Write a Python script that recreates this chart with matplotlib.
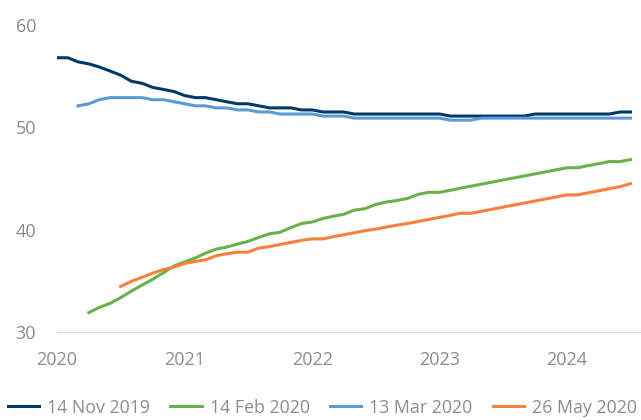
import pandas as pd
import matplotlib
matplotlib.use("Agg")
import matplotlib.pyplot as plt
import matplotlib.dates as mdates

plt.rcParams['font.family'] = ['Open Sans', 'DejaVu Sans']

# monthly points, Jan 2020 .. Jul 2024
meses = pd.date_range("2020-01-01", "2024-07-01", freq="MS")

nov_2019 = [56.8, 56.8, 56.4, 56.2, 55.9, 55.5, 55.1, 54.5, 54.3, 53.9, 53.7, 53.5,
            53.1, 52.9, 52.9, 52.7, 52.5, 52.3, 52.3, 52.1, 51.9, 51.9, 51.9, 51.7,
            51.7, 51.5, 51.5, 51.5, 51.3, 51.3, 51.3, 51.3, 51.3, 51.3, 51.3, 51.3,
            51.3, 51.1, 51.1, 51.1, 51.1, 51.1, 51.1, 51.1, 51.1, 51.3, 51.3, 51.3,
            51.3, 51.3, 51.3, 51.3, 51.3, 51.5, 51.5]

mar_2020 = [52.1, 52.3, 52.7, 52.9, 52.9, 52.9, 52.9, 52.7, 52.7, 52.5,
            52.3, 52.1, 52.1, 51.9, 51.9, 51.7, 51.7, 51.5, 51.5, 51.3, 51.3, 51.3,
            51.3, 51.1, 51.1, 51.1, 50.9, 50.9, 50.9, 50.9, 50.9, 50.9, 50.9, 50.9,
            50.9, 50.7, 50.7, 50.7, 50.9, 50.9, 50.9, 50.9, 50.9, 50.9, 50.9, 50.9,
            50.9, 50.9, 50.9, 50.9, 50.9, 50.9, 50.9]

feb_2020 = [31.9, 32.4, 32.8, 33.35, 34.0, 34.6, 35.15, 35.8, 36.45,
            36.85, 37.25, 37.7, 38.1, 38.3, 38.6, 38.85, 39.25, 39.6, 39.75, 40.2, 40.6,
            40.75, 41.1, 41.3, 41.5, 41.9, 42.05, 42.45, 42.7, 42.85, 43.05, 43.45, 43.65,
            43.65, 43.85, 44.05, 44.25, 44.45, 44.65, 44.85, 45.05, 45.25, 45.45, 45.65, 45.85,
            46.05, 46.05, 46.25, 46.45, 46.65, 46.65, 46.85]

mai_2020 = [34.45, 34.95, 35.35, 35.75, 36.1, 36.35,
            36.7, 36.9, 37.05, 37.45, 37.65, 37.8, 37.8, 38.2, 38.35, 38.55, 38.75, 38.95,
            39.1, 39.1, 39.3, 39.5, 39.7, 39.9, 40.05, 40.25, 40.45, 40.6, 40.8, 41.0,
            41.2, 41.4, 41.6, 41.6, 41.8, 42.0, 42.2, 42.4, 42.6, 42.8, 43.0, 43.2,
            43.4, 43.4, 43.6, 43.8, 44.0, 44.2, 44.5]

series = [
    ("14 Nov 2019", nov_2019, "#003A68"),
    ("14 Feb 2020", feb_2020, "#6AB04C"),
    ("13 Mar 2020", mar_2020, "#5B9BD5"),
    ("26 May 2020", mai_2020, "#F5813A"),
]

fig = plt.figure(figsize=(6.41, 4.2), dpi=100)
ax = fig.add_axes([0.089, 0.2095, 0.911, 0.731])

for nome, valores, cor in series:
    ax.plot(meses[-len(valores):], valores, color=cor, lw=2.2, label=nome)

ax.set_ylim(30, 60)
ax.set_yticks([30, 40, 50, 60])
ax.set_xlim(pd.Timestamp("2020-01-01"), pd.Timestamp("2024-07-31"))
ax.xaxis.set_major_locator(mdates.YearLocator())
ax.xaxis.set_major_formatter(mdates.DateFormatter("%Y"))

for lado in ["top", "right", "left"]:
    ax.spines[lado].set_visible(False)
ax.spines["bottom"].set_color("#d9d9d9")
ax.spines["bottom"].set_linewidth(1.0)
ax.tick_params(length=0, labelsize=13, colors="#8c8c8c")
ax.tick_params(axis="y", pad=15)
ax.tick_params(axis="x", pad=14)

fig.legend(loc="lower center", bbox_to_anchor=(0.503, -0.03), ncol=4, frameon=False,
           fontsize=12.8, labelcolor="#8c8c8c", handlelength=1.75, handletextpad=0.45,
           columnspacing=1.15)

fig.savefig("out.png", dpi=100)
